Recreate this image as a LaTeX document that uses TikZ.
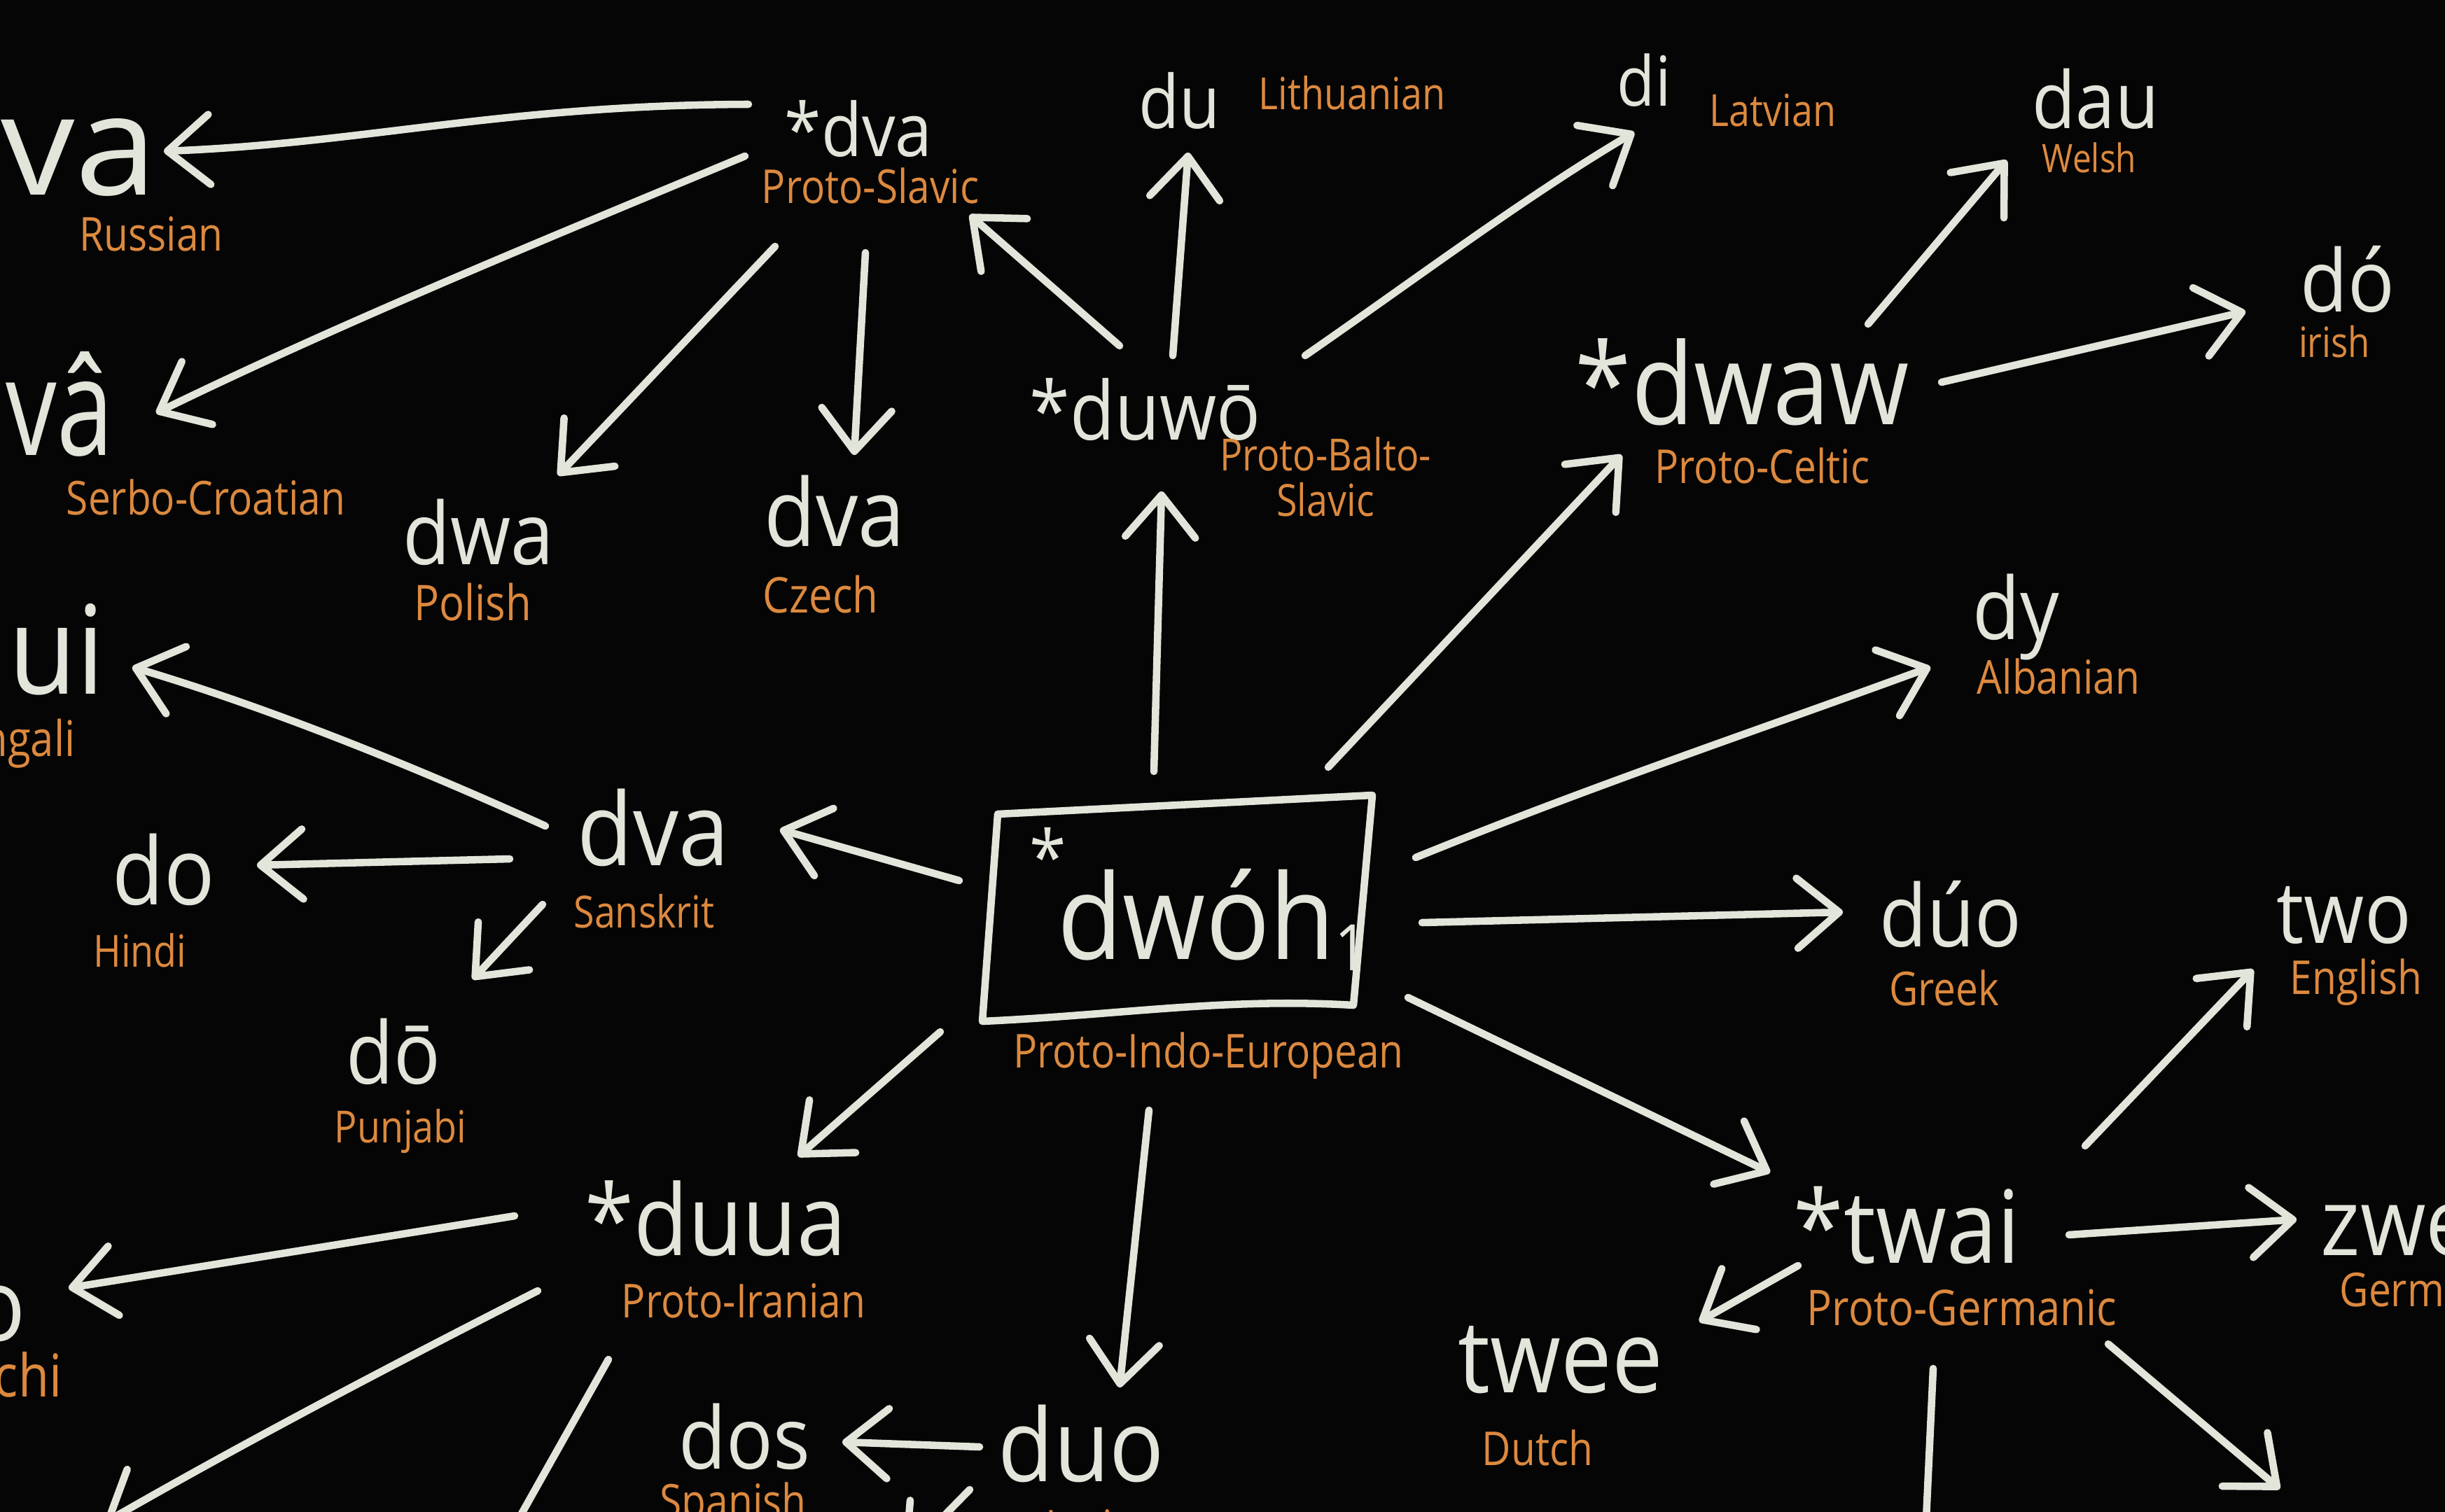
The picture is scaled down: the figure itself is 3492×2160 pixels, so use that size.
\documentclass[tikz,border=0pt]{standalone}
\usepackage{fontspec}
\setmainfont{Open Sans}
\newfontfamily\hand[FakeStretch=0.9]{Open Sans}
\newfontfamily\handl[FakeStretch=0.85]{Open Sans}
\newfontfamily\handw[FakeStretch=1.05]{Open Sans}
\newfontfamily\handn[FakeStretch=0.75]{Open Sans}
\usetikzlibrary{arrows.meta}
\definecolor{chalk}{HTML}{E2E5DA}
\definecolor{ochre}{HTML}{DC893F}
\definecolor{board}{HTML}{050505}
\newcommand\wf[1]{\hand\fontsize{#1}{#1}\selectfont}
\newcommand\lf[1]{\handl\fontsize{#1}{#1}\selectfont}
\begin{document}
\begin{tikzpicture}[x=0.01cm,y=-0.01cm,
  word/.style={text=chalk, inner sep=0pt, anchor=base west},
  wordr/.style={text=chalk, inner sep=0pt, anchor=base east},
  lab/.style={text=ochre, inner sep=0pt, anchor=base, font=\lf{19}},
  arr/.style={draw=chalk, line width=3pt, line cap=round, line join=round,
    -{Straight Barb[length=6mm,width=10mm,line width=3pt,round]}},
  ln/.style={draw=chalk, line width=3pt, line cap=round, line join=round}]
\useasboundingbox (0,0) rectangle (3492,2160);
\clip (0,0) rectangle (3492,2160);
\fill[board] (0,0) rectangle (3492,2160);

% ---------- words ----------
\node[wordr, font={\handw\fontsize{57}{57}\selectfont}] (ru) at (225,278) {dva};
\node[word, font=\wf{30}] (sl) at (1120,223) {*dva};
\node[word, font=\wf{30}] (lt) at (1626,183) {du};
\node[word, font=\wf{28}] (lv) at (2309,151) {di};
\node[word, font=\wf{32}] (we) at (2902,183) {dau};
\node[word, font=\wf{35}] (ga) at (3285,445) {dó};
\node[wordr, font={\handn\fontsize{55}{55}\selectfont}] (sc) at (163,650) {dvâ};
\node[word, font=\wf{35}] (pl) at (575,806) {dwa};
\node[word, font=\wf{38}] (cz) at (1091,780) {dva};
\node[word, font=\wf{33}] (bs) at (1470,628) {*duwō};
\node[word, font=\wf{46}] (ce) at (2249,606) {*dwaw};
\node[word, font=\wf{35}] (al) at (2817,913) {dy};
\node[wordr, font=\wf{50}] (bn) at (150,991) {dui};
\node[word, font=\wf{41}] (sa) at (824,1236) {dva};
\node[word, font=\wf{38}] (hi) at (160,1292) {do};
\node[word, font=\wf{35}] (pa) at (494,1548) {dō};
\node[word, font=\wf{35}] (gr) at (2684,1352) {dúo};
\node[word, font=\wf{35}] (en) at (3251,1347) {two};
\node[word, font=\wf{40}] (ii) at (835,1793) {*duua};
\node[word, font=\wf{41}] (gm) at (2561,1804) {*twai};
\node[word, font=\wf{38}] (de) at (3314,1793) {zwei};
\node[word, font=\wf{41}] (nl) at (2082,1989) {twee};
\node[wordr, font=\wf{41}] (ba) at (38,1915) {do};
\node[word, font=\wf{35}] (es) at (969,2098) {dos};
\node[word, font=\wf{41}] (la) at (1425,2116) {duo};
\node[word, font=\wf{30}] (piestar) at (1470,1262) {*};
\node[word, font=\wf{48}] (pie) at (1510,1370) {dwóh\raisebox{-0.1em}{\wf{26}1}};

% ---------- labels ----------
\node[lab] (lru) at (216,358) {Russian};
\node[lab] (lsl) at (1243,290) {Proto-Slavic};
\node[lab, font=\lf{18}] (llt) at (1931,156) {Lithuanian};
\node[lab, font=\lf{18}] (llv) at (2532,180) {Latvian};
\node[lab, font=\lf{16}] (lwe) at (2984,246) {Welsh};
\node[lab, font=\lf{17}] (lga) at (3334,510) {irish};
\node[lab] (lsc) at (294,735) {Serbo-Croatian};
\node[lab, font=\lf{20}] (lpl) at (675,886) {Polish};
\node[lab, font=\lf{20}] (lcz) at (1172,875) {Czech};
\node[lab, font=\lf{18}] (lbs1) at (1893,672) {Proto-Balto-};
\node[lab, font=\lf{18}] (lbs2) at (1893,737) {Slavic};
\node[lab] (lce) at (2517,690) {Proto-Celtic};
\node[lab] (lal) at (2940,991) {Albanian};
\node[lab, anchor=base east, font=\lf{20}] (lbn) at (108,1080) {Bengali};
\node[lab, font=\lf{18}] (lsa) at (920,1325) {Sanskrit};
\node[lab, font=\lf{18}] (lhi) at (200,1381) {Hindi};
\node[lab, font=\lf{18}] (lpa) at (572,1632) {Punjabi};
\node[lab] (lgr) at (2777,1436) {Greek};
\node[lab] (len) at (3365,1420) {English};
\node[lab] (lii) at (1062,1882) {Proto-Iranian};
\node[lab, font=\lf{20}] (lgm) at (2802,1893) {Proto-Germanic};
\node[lab, anchor=base west] (lde) at (3341,1866) {German};
\node[lab] (lnl) at (2196,2093) {Dutch};
\node[lab, anchor=base east, font=\lf{24}] (lba) at (89,1995) {Balochi};
\node[lab] (les) at (1047,2168) {Spanish};
\node[lab] (lla) at (1559,2205) {Latin};
\node[lab] (lpie) at (1726,1525) {Proto-Indo-European};

% ---------- PIE box ----------
\coordinate (b1) at (1425,1163);
\coordinate (b2) at (1960,1136);
\coordinate (b3) at (1933,1436);
\coordinate (b4) at (1403,1459);
\draw[ln] (b1) -- (b2) -- (b3) .. controls (1750,1425) and (1600,1450) .. (b4) -- cycle;

% ---------- arrow end points ----------
\coordinate (s1) at (1069,149);  \coordinate (e1) at (234,216);
\coordinate (s2) at (1064,223);  \coordinate (e2) at (223,590);
\coordinate (s3) at (1107,352);  \coordinate (e3) at (797,679);
\coordinate (s4) at (1236,361);  \coordinate (e4) at (1220,650);
\coordinate (s5) at (1599,494);  \coordinate (e5) at (1385,307);
\coordinate (s6) at (1675,508);  \coordinate (e6) at (1697,218);
\coordinate (s7) at (1864,508);  \coordinate (e7) at (2334,189);
\coordinate (s8) at (1648,1102); \coordinate (e8) at (1659,702);
\coordinate (s9) at (1897,1096); \coordinate (e9) at (2316,650);
\coordinate (s10) at (2668,463); \coordinate (e10) at (2866,229);
\coordinate (s11) at (2773,546); \coordinate (e11) at (3207,445);
\coordinate (s12) at (2022,1225);\coordinate (e12) at (2757,953);
\coordinate (s13) at (2031,1318);\coordinate (e13) at (2632,1303);
\coordinate (s14) at (2011,1425);\coordinate (e14) at (2528,1675);
\coordinate (s15) at (1370,1258);\coordinate (e15) at (1114,1185);
\coordinate (s16) at (779,1180); \coordinate (e16) at (189,953);
\coordinate (s17) at (728,1227); \coordinate (e17) at (367,1236);
\coordinate (s18) at (775,1292); \coordinate (e18) at (675,1399);
\coordinate (s19) at (1343,1474);\coordinate (e19) at (1140,1652);
\coordinate (s20) at (1641,1586);\coordinate (e20) at (1599,1982);
\coordinate (s21) at (2978,1637);\coordinate (e21) at (3218,1385);
\coordinate (s22) at (2955,1764);\coordinate (e22) at (3280,1742);
\coordinate (s23) at (2568,1808);\coordinate (e23) at (2427,1888);
\coordinate (s24) at (2761,1955);\coordinate (e24) at (2748,2235);
\coordinate (s25) at (3011,1920);\coordinate (e25) at (3256,2127);
\coordinate (s26) at (735,1737); \coordinate (e26) at (98,1840);
\coordinate (s27) at (768,1844); \coordinate (e27) at (150,2175);
\coordinate (s28) at (869,1942); \coordinate (e28) at (690,2260);
\coordinate (s29) at (1399,2067);\coordinate (e29) at (1203,2060);
\coordinate (s30) at (1385,2128);\coordinate (e30) at (1290,2225);

% ---------- arrows ----------
\draw[arr] (s1) .. controls (720,150) and (520,205) .. (e1);
\draw[arr] (s2) .. controls (820,325) and (500,455) .. (e2);
\draw[arr] (s3) -- (e3);
\draw[arr] (s4) -- (e4);
\draw[arr] (s5) -- (e5);
\draw[arr] (s6) -- (e6);
\draw[arr] (s7) .. controls (2020,400) and (2180,280) .. (e7);
\draw[arr] (s8) -- (e8);
\draw[arr] (s9) -- (e9);
\draw[arr] (s10) -- (e10);
\draw[arr] (s11) -- (e11);
\draw[arr] (s12) .. controls (2280,1120) and (2520,1040) .. (e12);
\draw[arr] (s13) -- (e13);
\draw[arr] (s14) -- (e14);
\draw[arr] (s15) -- (e15);
\draw[arr] (s16) .. controls (580,1090) and (380,1010) .. (e16);
\draw[arr] (s17) -- (e17);
\draw[arr] (s18) -- (e18);
\draw[arr] (s19) -- (e19);
\draw[arr] (s20) -- (e20);
\draw[arr] (s21) -- (e21);
\draw[arr] (s22) -- (e22);
\draw[arr] (s23) -- (e23);
\draw[arr] (s24) -- (e24);
\draw[arr] (s25) -- (e25);
\draw[arr] (s26) -- (e26);
\draw[arr] (s27) .. controls (560,1950) and (350,2060) .. (e27);
\draw[arr] (s28) -- (e28);
\draw[arr] (s29) -- (e29);
\draw[arr] (s30) -- (e30);
\end{tikzpicture}
\end{document}
